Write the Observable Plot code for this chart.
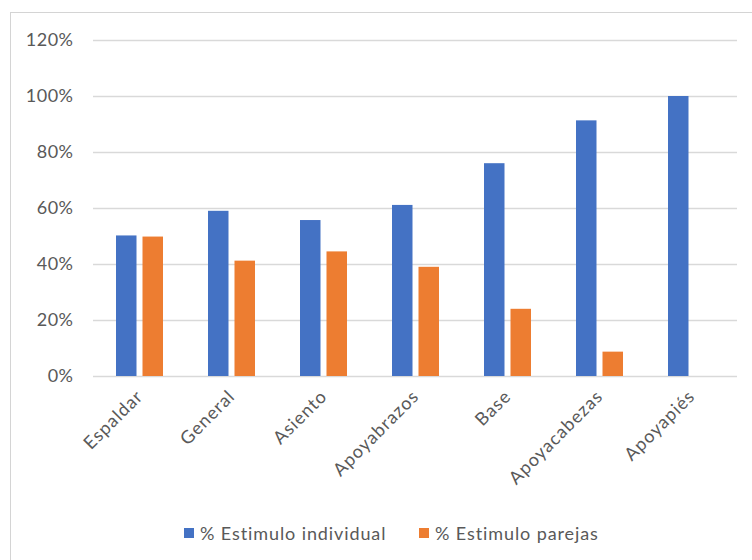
<!DOCTYPE html>
<html>
<head>
<meta charset="utf-8">
<script src="https://cdn.jsdelivr.net/npm/d3@7"></script>
<script src="https://cdn.jsdelivr.net/npm/@observablehq/plot@0.6"></script>
<style>
  html, body { margin: 0; padding: 0; background: #fff; overflow: hidden; }
  #wrap { position: relative; width: 752px; height: 560px; font-family: Lato, "Open Sans", sans-serif; color: #595959; }
  #frame { position: absolute; left: 10px; top: 12px; width: 800px; height: 600px; border: 1.5px solid #d4d4d4; box-sizing: border-box; }
  #chart { position: absolute; left: 0; top: 0; }
  .leg { position: absolute; top: 522px; display: flex; align-items: center; font-size: 18px; letter-spacing: 0.9px; white-space: nowrap; }
  .sw { width: 10px; height: 10px; margin-right: 6px; }
  .xax text { letter-spacing: 1px; }
  .yax text { letter-spacing: 0.5px; }
</style>
</head>
<body>
<div id="wrap">
  <div id="frame"></div>
  <div id="chart"></div>
  <div class="leg" style="left:184px"><span class="sw" style="background:#4472C4"></span><span>% Estimulo individual</span></div>
  <div class="leg" style="left:419px"><span class="sw" style="background:#ED7D31"></span><span>% Estimulo parejas</span></div>
</div>
<script>
const categories = ["Espaldar", "General", "Asiento", "Apoyabrazos", "Base", "Apoyacabezas", "Apoyapiés"];
const individual = [0.502, 0.590, 0.557, 0.611, 0.760, 0.913, 1.000];
const parejas = [0.498, 0.412, 0.445, 0.390, 0.240, 0.087, 0.0];
const yTicks = [0, 0.2, 0.4, 0.6, 0.8, 1.0, 1.2];

const data = categories.map((c, i) => ({cat: c, ind: individual[i], par: parejas[i]}));

const chart = Plot.plot({
  width: 752,
  height: 500,
  marginLeft: 93,
  marginRight: 15,
  marginTop: 40,
  marginBottom: 124,
  x: {domain: categories, paddingInner: 0.49, paddingOuter: 0.245, align: 0.5},
  y: {domain: [0, 1.2]},
  style: {fontFamily: "Lato, 'Open Sans', sans-serif", fontSize: "18px", color: "#595959", background: "transparent"},
  marks: [
    Plot.gridY(yTicks, {stroke: "#d9d9d9", strokeOpacity: 1, strokeWidth: 1.5}),
    Plot.axisY(yTicks, {tickFormat: d3.format(".0%"), tickSize: 0, tickPadding: 20, label: null, fontSize: 18, className: "yax"}),
    Plot.axisX({tickRotate: -45, tickSize: 0, tickPadding: 17, label: null, fontSize: 18, className: "xax"}),
    Plot.barY(data, {x: "cat", y: "ind", fill: "#4472C4", insetRight: 26.5}),
    Plot.barY(data.filter(d => d.par > 0), {x: "cat", y: "par", fill: "#ED7D31", insetLeft: 26.5})
  ]
});
document.getElementById("chart").appendChild(chart);
</script>
</body>
</html>
